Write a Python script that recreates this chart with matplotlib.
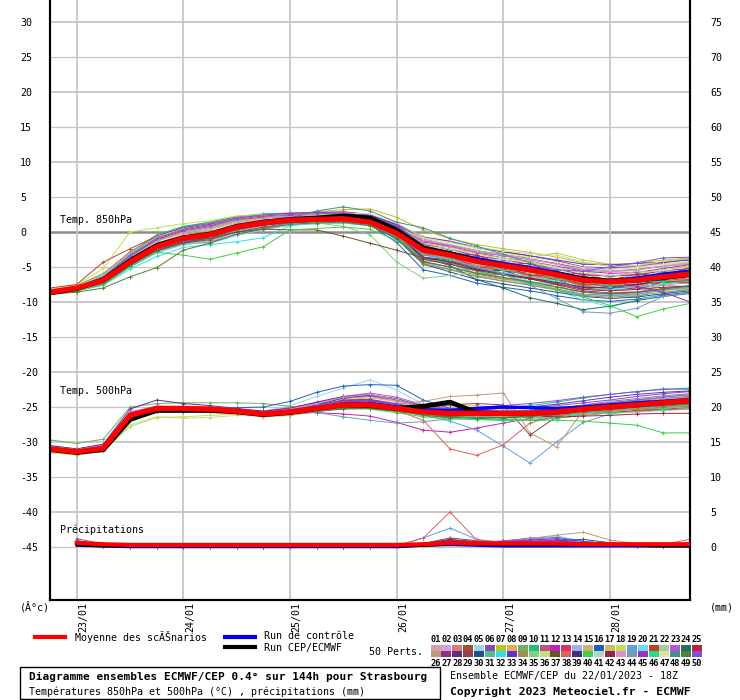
import matplotlib
matplotlib.use('Agg')
import matplotlib.pyplot as plt
from matplotlib.lines import Line2D
from matplotlib.patches import Rectangle

plt.rcParams['font.family'] = ['DejaVu Sans Mono']

# ---------------- data ----------------
hours_temp = [0, 6, 12, 18, 24, 30, 36, 42, 48, 54, 60, 66, 72, 78, 84, 90, 96, 102, 108, 114, 120, 126, 132, 138, 144]
hours_precip = [6, 12, 18, 24, 30, 36, 42, 48, 54, 60, 66, 72, 78, 84, 90, 96, 102, 108, 114, 120, 126, 132, 138, 144]
date_labels = ['23/01', '24/01', '25/01', '26/01', '27/01', '28/01']
date_hours = [6, 30, 54, 78, 102, 126]
left_ticks = [-45, -40, -35, -30, -25, -20, -15, -10, -5, 0, 5, 10, 15, 20, 25, 30]
right_ticks = [0, 5, 10, 15, 20, 25, 30, 35, 40, 45, 50, 55, 60, 65, 70, 75]

pert_colors = ['#d4a0a8', '#d0a0e0', '#e07880', '#a05030', '#a0d0f0', '#8050b0', '#c0c020', '#e0b050', '#70b060', '#20c070',
               '#c05080', '#c020c0', '#e03060', '#a0b0e0', '#d0b080', '#2060c0', '#c8c060', '#c0e050', '#60a0e0', '#60e0f0',
               '#c04020', '#a0d0a0', '#c050e0', '#207060', '#c02030', '#c09878', '#903080', '#603080', '#904050', '#205090',
               '#50c090', '#30e0e0', '#6030d0', '#a09050', '#80d080', '#c0e080', '#705020', '#e06060', '#403080', '#40d040',
               '#b0d8c8', '#a02040', '#e090d0', '#70a0b0', '#a030c0', '#20e090', '#e0e0a0', '#409090', '#508030', '#8050e0']

t850_mean = [-8.6, -8.0, -6.9, -4.3, -2.1, -0.9, -0.4, 0.7, 1.3, 1.7, 1.8, 1.9, 1.4, -0.2, -2.6, -3.3, -4.2, -4.8, -5.4, -6.1, -6.9, -7.1, -6.9, -6.4, -6.0]
t850_control = [-8.6, -8.1, -6.9, -4.1, -2.1, -1.0, -0.4, 0.7, 1.3, 1.7, 1.8, 1.8, 1.4, -0.3, -2.3, -3.0, -3.8, -4.5, -5.1, -5.8, -6.6, -6.9, -6.6, -6.0, -5.6]
t850_cep = [-8.7, -8.1, -6.8, -4.1, -1.9, -0.8, -0.3, 0.8, 1.4, 1.8, 2.0, 2.3, 2.0, 0.3, -2.3, -3.1, -4.1, -4.8, -5.4, -6.0, -6.7, -7.0, -6.9, -6.5, -6.1]
t850_members = [
    [-8.3, -7.9, -6.4, -3.3, -1.0, 0.1, 0.7, 1.6, 2.0, 2.2, 2.3, 2.4, 2.0, 0.6, -1.2, -1.8, -2.6, -3.4, -4.0, -4.5, -5.3, -5.7, -5.5, -4.8, -4.4],
    [-8.8, -8.2, -7.3, -4.6, -2.5, -1.3, -0.8, 0.3, 1.0, 1.6, 1.8, 1.8, 1.3, -0.4, -4.1, -4.5, -5.9, -6.0, -7.2, -7.3, -8.6, -8.2, -8.6, -7.6, -7.8],
    [-8.2, -7.7, -5.9, -2.8, -0.6, 0.5, 0.9, 1.8, 2.2, 2.3, 2.3, 2.4, 1.9, 0.3, -2.1, -2.9, -4.0, -4.9, -5.8, -6.7, -7.7, -8.0, -7.9, -7.4, -7.0],
    [-8.6, -8.1, -7.0, -4.7, -2.9, -1.8, -1.4, -0.3, 0.4, 1.0, 1.2, 1.3, 0.9, -0.8, -4.2, -5.0, -6.0, -6.7, -7.2, -7.9, -8.6, -8.9, -8.7, -8.2, -7.8],
    [-8.9, -8.3, -7.4, -5.0, -3.0, -1.8, -1.3, -0.2, 0.5, 1.2, 1.5, 1.6, 1.2, -0.6, -3.6, -4.6, -4.8, -5.9, -5.6, -6.8, -6.6, -7.3, -6.2, -6.3, -5.3],
    [-8.4, -7.8, -6.2, -3.0, -0.6, 0.7, 1.4, 2.2, 2.5, 2.6, 2.7, 2.7, 2.4, 1.1, -0.7, -1.3, -2.2, -2.9, -3.4, -4.1, -5.0, -5.1, -4.9, -4.4, -3.9],
    [-8.3, -7.7, -6.3, -3.2, -1.2, 0.0, 0.6, 1.6, 2.2, 2.6, 2.9, 3.2, 3.3, 2.1, 0.3, -1.0, -1.8, -2.4, -2.9, -3.6, -4.4, -4.6, -4.5, -4.0, -3.7],
    [-8.7, -8.2, -7.2, -4.8, -2.8, -1.6, -1.0, 0.2, 0.9, 1.4, 1.6, 1.7, 1.2, -0.3, -4.7, -5.3, -6.2, -6.8, -7.4, -8.1, -8.9, -9.1, -8.8, -8.4, -8.0],
    [-8.5, -8.0, -6.9, -4.2, -2.3, -1.2, -0.7, 0.5, 1.1, 1.6, 1.7, 1.8, 1.4, -0.2, -3.9, -4.4, -6.0, -6.1, -7.4, -7.5, -9.1, -8.7, -9.3, -8.0, -8.2],
    [-8.2, -7.6, -6.1, -3.0, -0.4, 0.8, 1.4, 2.2, 2.6, 2.7, 2.8, 2.8, 2.4, 0.9, -1.0, -1.9, -2.7, -3.2, -3.8, -4.6, -5.5, -5.6, -5.3, -4.9, -4.6],
    [-8.6, -8.0, -6.6, -3.7, -1.7, -0.6, -0.1, 1.0, 1.6, 2.0, 2.1, 2.2, 1.8, 0.3, -2.3, -3.3, -3.6, -4.8, -4.8, -6.2, -6.3, -7.2, -6.3, -6.6, -5.5],
    [-8.4, -7.9, -6.5, -3.4, -0.8, 0.5, 1.1, 1.9, 2.3, 2.4, 2.5, 2.5, 2.1, 0.7, -1.4, -2.1, -3.0, -3.7, -4.2, -4.9, -5.6, -5.9, -5.8, -5.2, -4.7],
    [-8.7, -8.1, -7.1, -4.4, -2.4, -1.3, -0.8, 0.3, 1.0, 1.5, 1.7, 1.8, 1.3, -0.1, -3.1, -3.5, -5.0, -5.0, -6.2, -6.3, -7.7, -7.2, -7.7, -6.6, -6.8],
    [-8.9, -8.4, -7.5, -4.9, -2.9, -1.7, -1.2, 0.0, 0.6, 1.2, 1.3, 1.4, 0.9, -0.9, -4.4, -5.0, -5.9, -6.6, -7.3, -7.9, -8.6, -9.0, -8.8, -8.2, -7.8],
    [-8.4, -7.9, -6.7, -3.9, -1.6, -0.3, 0.3, 1.3, 1.8, 2.0, 2.1, 2.1, 1.7, 0.2, -1.6, -2.6, -2.9, -4.2, -4.1, -5.5, -5.6, -6.5, -5.6, -5.8, -4.7],
    [-8.8, -8.3, -7.3, -4.6, -2.4, -1.1, -0.5, 0.6, 1.1, 1.4, 1.5, 1.5, 1.0, -1.5, -5.4, -6.2, -7.3, -7.9, -8.4, -9.1, -9.7, -9.9, -9.6, -9.0, -8.6],
    [-8.3, -7.8, -6.5, -3.6, -1.2, -0.1, 0.5, 1.5, 2.0, 2.2, 2.2, 2.2, 1.8, 0.5, -1.6, -2.2, -2.9, -3.3, -3.6, -3.0, -4.0, -4.6, -4.9, -4.6, -4.3],
    [-8.2, -7.6, -5.2, 0.0, 0.6, 1.2, 1.6, 2.3, 2.5, 2.5, 2.4, 2.4, 2.0, 0.5, -1.7, -2.4, -3.2, -3.7, -4.3, -5.0, -5.9, -6.2, -6.0, -5.4, -4.9],
    [-8.6, -8.1, -7.1, -4.4, -2.5, -1.4, -0.9, 0.2, 0.9, 1.4, 1.6, 1.7, 1.3, -0.3, -4.5, -5.3, -6.3, -7.0, -7.6, -8.2, -8.9, -9.1, -8.9, -8.3, -7.9],
    [-8.7, -8.2, -7.2, -4.6, -2.8, -1.6, -1.6, -0.5, 0.3, 1.0, 1.2, 1.3, 0.9, -0.7, -3.3, -4.1, -5.2, -6.0, -7.0, -8.3, -9.7, -10.7, -9.8, -8.8, -8.2],
    [-8.0, -7.5, -4.3, -2.4, -0.6, 0.6, 1.0, 1.8, 2.1, 2.1, 2.2, 2.3, 1.8, 0.1, -3.1, -3.8, -4.7, -5.3, -5.9, -6.6, -7.3, -7.7, -7.5, -7.0, -6.5],
    [-8.5, -8.0, -6.9, -4.1, -2.1, -0.9, -0.4, 0.7, 1.3, 1.8, 1.9, 2.0, 1.6, 0.0, -2.8, -3.2, -4.7, -4.7, -5.9, -6.0, -7.4, -6.9, -7.4, -6.3, -6.6],
    [-8.4, -7.9, -6.4, -3.4, -0.9, 0.4, 1.0, 1.9, 2.4, 2.6, 2.6, 2.7, 2.3, 0.9, -1.3, -2.0, -2.9, -3.4, -3.9, -4.5, -5.2, -5.3, -4.9, -4.3, -3.8],
    [-8.8, -8.2, -7.2, -4.5, -2.3, -1.1, -0.6, 0.5, 1.0, 1.5, 1.6, 1.6, 1.2, -0.6, -3.6, -4.8, -6.8, -8.0, -9.4, -10.2, -11.1, -10.6, -9.8, -9.2, -8.8],
    [-8.5, -8.0, -6.8, -3.8, -1.7, -0.6, 0.0, 1.1, 1.7, 2.0, 2.1, 2.1, 1.7, 0.3, -2.0, -3.0, -3.3, -4.6, -4.5, -5.9, -6.0, -6.9, -6.0, -6.2, -5.1],
    [-8.6, -8.1, -7.0, -4.3, -2.2, -1.0, -0.5, 0.6, 1.2, 1.6, 1.7, 1.7, 1.2, -0.4, -3.8, -4.5, -5.4, -6.0, -6.6, -7.3, -8.1, -8.3, -8.1, -7.6, -7.2],
    [-8.3, -7.8, -6.5, -3.5, -1.1, 0.2, 0.8, 1.8, 2.3, 2.5, 2.5, 2.6, 2.2, 0.7, -1.8, -2.5, -3.4, -4.0, -4.6, -5.3, -6.1, -6.3, -6.1, -5.6, -5.2],
    [-8.7, -8.1, -6.9, -4.1, -2.0, -0.8, -0.3, 0.8, 1.4, 1.8, 1.9, 1.9, 1.5, -0.1, -3.6, -4.0, -5.5, -5.5, -6.7, -6.8, -8.2, -7.7, -8.2, -7.1, -7.3],
    [-8.5, -8.0, -7.1, -4.5, -2.7, -1.6, -1.1, 0.0, 0.7, 1.3, 1.5, 1.6, 1.1, -0.4, -3.6, -4.3, -5.1, -5.9, -6.7, -7.5, -8.4, -8.7, -8.6, -8.1, -7.7],
    [-8.9, -8.4, -7.5, -4.8, -2.6, -1.4, -0.8, 0.4, 1.0, 1.4, 1.5, 1.5, 1.0, -1.0, -4.6, -5.7, -6.8, -7.4, -8.0, -8.6, -9.2, -9.5, -9.3, -8.8, -8.4],
    [-8.4, -7.9, -6.6, -3.6, -1.3, -0.1, 0.5, 1.5, 2.0, 2.2, 2.2, 2.2, 1.8, 0.2, -2.4, -3.4, -3.7, -5.0, -4.9, -6.3, -6.4, -7.3, -6.4, -6.6, -5.5],
    [-8.8, -8.4, -7.6, -5.3, -3.5, -2.2, -1.8, -1.4, -0.8, 0.9, 1.3, 1.4, 1.0, -0.7, -3.6, -4.3, -5.2, -5.8, -6.4, -7.1, -7.9, -8.1, -7.9, -7.4, -7.0],
    [-8.3, -7.8, -6.3, -3.2, -0.7, 0.6, 1.2, 2.0, 2.4, 2.5, 2.6, 2.7, 2.4, 1.1, -0.8, -1.4, -2.2, -2.8, -3.4, -4.0, -4.6, -4.7, -4.5, -4.3, -4.0],
    [-8.6, -8.1, -7.0, -4.2, -2.2, -1.0, -0.6, 0.5, 1.1, 1.5, 1.6, 1.6, 1.2, -0.3, -4.6, -5.4, -6.4, -7.0, -7.6, -8.3, -9.1, -9.3, -9.1, -8.6, -8.2],
    [-8.4, -7.9, -6.7, -3.8, -1.8, -0.7, -0.2, 0.9, 1.5, 1.9, 1.3, 0.8, -0.4, -4.3, -6.6, -6.2, -5.8, -6.0, -6.4, -6.9, -7.4, -7.6, -7.3, -6.8, -6.4],
    [-8.2, -7.7, -6.2, -3.1, -0.7, 0.5, 1.1, 2.0, 2.4, 2.5, 2.5, 2.5, 2.1, 0.6, -0.9, -1.5, -2.2, -2.7, -3.1, -3.3, -4.3, -4.9, -4.8, -4.2, -3.8],
    [-8.7, -8.2, -7.2, -4.7, -2.6, -1.5, -0.9, 0.0, 0.4, 0.3, 0.3, -0.6, -1.6, -2.6, -3.7, -4.2, -5.0, -5.5, -6.1, -6.8, -7.4, -7.7, -7.5, -7.2, -6.9],
    [-8.5, -8.0, -6.8, -3.9, -1.9, -0.8, -0.3, 0.8, 1.4, 1.8, 2.0, 2.0, 1.6, 0.0, -3.3, -3.7, -5.2, -5.2, -6.4, -6.5, -7.9, -7.4, -7.9, -6.8, -7.0],
    [-8.6, -8.1, -6.9, -4.0, -2.0, -0.9, -0.4, 0.7, 1.3, 1.7, 1.8, 1.8, 1.4, -0.2, -3.6, -4.3, -5.3, -6.0, -6.6, -7.2, -7.9, -8.0, -7.5, -6.8, -6.2],
    [-8.8, -8.4, -7.5, -5.0, -2.9, -3.3, -3.9, -3.0, -2.1, 0.3, 0.5, 0.7, 0.4, -1.2, -3.8, -4.6, -5.6, -6.5, -7.3, -8.2, -9.3, -10.5, -12.1, -11.0, -10.2],
    [-8.5, -8.0, -6.8, -4.0, -2.0, -0.9, -0.3, 0.8, 1.3, 1.7, 1.8, 1.9, 1.5, -0.1, -2.0, -2.4, -3.9, -3.9, -5.1, -5.2, -6.6, -6.1, -6.6, -5.5, -5.7],
    [-8.7, -8.2, -7.1, -4.4, -2.4, -1.2, -0.7, 0.4, 1.0, 1.5, 1.6, 1.7, 1.3, -0.2, -3.9, -4.6, -5.5, -6.1, -6.7, -7.4, -8.2, -8.4, -8.2, -7.9, -7.7],
    [-8.3, -7.8, -6.6, -3.7, -1.3, -0.1, 0.5, 1.5, 2.0, 2.2, 2.3, 2.4, 2.0, 0.4, -1.1, -1.8, -2.7, -3.3, -3.9, -4.6, -5.4, -5.6, -5.4, -4.9, -4.5],
    [-8.6, -8.1, -7.0, -4.3, -2.3, -1.2, -0.7, 0.5, 1.1, 1.5, 1.6, 1.6, 1.2, -0.5, -3.2, -4.0, -5.0, -6.0, -7.6, -9.5, -11.4, -11.6, -10.9, -9.2, -8.7],
    [-8.4, -7.9, -6.5, -3.4, -0.9, 0.4, 1.1, 2.0, 2.4, 2.7, 2.8, 2.9, 2.5, 1.0, -2.0, -2.8, -3.9, -4.5, -5.1, -5.8, -6.4, -6.9, -7.8, -8.6, -10.0],
    [-8.5, -8.0, -6.7, -3.8, -1.7, -0.6, 0.0, 1.1, 1.6, 2.0, 2.1, 2.1, 1.7, 0.1, -2.9, -3.9, -4.2, -5.5, -5.4, -6.8, -6.9, -7.8, -6.9, -7.1, -6.0],
    [-8.2, -7.7, -6.4, -3.3, -0.9, 0.3, 0.9, 1.8, 2.3, 2.5, 2.6, 2.7, 2.6, 1.3, -0.8, -1.5, -2.4, -3.0, -3.6, -4.3, -5.1, -5.3, -5.1, -4.6, -4.2],
    [-8.7, -8.2, -7.2, -4.5, -2.5, -1.3, -0.7, 0.4, 1.1, 2.0, 3.0, 3.6, 3.0, 1.4, 0.6, -0.9, -2.0, -3.2, -4.4, -5.6, -6.6, -7.2, -7.0, -6.6, -6.3],
    [-8.9, -8.6, -8.0, -6.4, -5.1, -2.6, -1.6, -0.3, 0.5, 1.1, 1.3, 1.4, 0.9, -0.8, -4.3, -5.0, -5.9, -6.5, -7.1, -7.8, -8.6, -8.8, -8.6, -8.1, -7.7],
    [-8.3, -7.8, -6.4, -3.3, -0.9, 0.3, 0.9, 1.8, 2.3, 2.5, 2.6, 2.7, 2.3, 0.8, -2.0, -2.8, -3.7, -4.3, -4.9, -5.4, -5.6, -5.0, -4.4, -3.7, -3.6],
]

t500_mean = [-31.0, -31.4, -30.9, -26.2, -25.2, -25.2, -25.3, -25.6, -26.0, -25.7, -25.2, -24.7, -24.7, -25.2, -25.7, -25.9, -25.9, -25.9, -25.9, -25.7, -25.3, -25.0, -24.7, -24.4, -24.1]
t500_control = [-31.0, -31.4, -30.8, -26.1, -25.2, -25.2, -25.3, -25.6, -26.0, -25.7, -25.2, -24.6, -24.5, -25.0, -25.4, -25.5, -25.2, -25.0, -25.1, -25.2, -25.0, -24.7, -24.4, -24.2, -24.0]
t500_cep = [-31.1, -31.5, -31.1, -26.8, -25.5, -25.5, -25.5, -25.7, -26.1, -25.8, -25.2, -24.7, -24.8, -25.2, -24.9, -24.3, -25.8, -25.9, -25.9, -25.7, -25.3, -25.0, -24.7, -24.4, -24.1]
t500_members = [
    [-30.8, -31.2, -30.6, -26.0, -25.0, -25.1, -25.2, -25.5, -25.8, -25.4, -24.8, -24.2, -24.1, -24.8, -25.5, -26.2, -25.7, -26.5, -25.6, -26.2, -25.2, -25.6, -24.6, -25.0, -24.1],
    [-31.3, -31.6, -31.0, -26.5, -25.4, -25.3, -25.4, -25.8, -26.2, -25.9, -25.3, -24.5, -24.0, -24.4, -25.2, -25.6, -25.8, -25.7, -25.6, -25.2, -24.8, -24.3, -24.0, -23.6, -23.3],
    [-30.6, -31.0, -30.4, -25.8, -25.1, -25.0, -25.0, -25.3, -25.7, -25.3, -24.6, -23.8, -23.5, -24.2, -25.1, -25.6, -25.8, -26.2, -26.4, -26.1, -25.7, -25.3, -25.0, -24.6, -24.2],
    [-31.1, -31.5, -31.0, -26.4, -25.3, -25.4, -25.5, -25.8, -26.3, -26.1, -25.6, -25.0, -24.8, -25.3, -25.8, -26.1, -26.2, -26.3, -26.4, -26.2, -25.9, -25.6, -25.3, -25.0, -24.8],
    [-30.9, -31.3, -30.7, -26.1, -25.0, -25.0, -25.2, -25.5, -25.6, -24.8, -23.5, -22.3, -21.1, -22.6, -24.6, -25.4, -25.8, -25.9, -25.7, -25.4, -25.0, -24.8, -24.5, -24.2, -23.8],
    [-30.7, -31.2, -30.5, -25.9, -24.9, -25.0, -25.1, -25.3, -25.6, -25.1, -24.4, -23.6, -23.4, -24.0, -24.9, -25.2, -25.3, -25.2, -25.1, -24.8, -24.4, -24.0, -23.5, -23.1, -22.8],
    [-31.2, -31.6, -31.1, -26.6, -25.5, -25.4, -25.5, -25.8, -26.1, -25.9, -25.5, -25.1, -25.0, -25.4, -25.9, -25.7, -26.4, -25.6, -26.2, -25.0, -25.3, -24.3, -24.8, -23.9, -24.3],
    [-30.9, -31.3, -30.8, -26.3, -25.4, -25.5, -25.6, -25.9, -26.4, -26.2, -25.7, -25.2, -25.0, -25.1, -25.3, -25.0, -24.8, -25.2, -25.8, -26.0, -25.8, -25.4, -25.1, -24.8, -24.5],
    [-29.7, -30.2, -29.6, -25.0, -24.5, -24.4, -24.4, -24.4, -24.5, -24.9, -25.0, -25.0, -25.2, -25.6, -25.9, -26.2, -26.4, -26.6, -26.5, -26.1, -25.6, -25.1, -24.6, -24.2, -23.9],
    [-30.8, -31.2, -30.7, -26.0, -25.1, -25.1, -25.2, -25.4, -25.8, -25.5, -25.0, -24.6, -24.6, -25.0, -25.3, -25.4, -25.3, -25.1, -24.8, -24.3, -23.7, -23.2, -22.8, -22.4, -22.5],
    [-31.0, -31.4, -30.9, -26.2, -25.2, -25.3, -25.4, -25.7, -26.0, -25.6, -25.0, -24.3, -24.1, -24.7, -25.6, -26.1, -26.3, -26.4, -26.2, -26.0, -25.7, -25.4, -25.1, -24.9, -24.7],
    [-31.1, -31.5, -31.0, -26.5, -25.4, -25.3, -25.4, -25.7, -26.0, -25.9, -25.8, -26.0, -26.3, -27.2, -28.3, -28.6, -28.0, -27.3, -26.6, -26.3, -26.1, -25.8, -25.6, -25.4, -25.3],
    [-30.8, -31.3, -30.6, -26.1, -25.2, -25.2, -25.3, -25.6, -25.9, -25.5, -25.0, -24.5, -24.4, -24.9, -25.5, -25.7, -25.6, -25.7, -25.8, -25.5, -25.1, -24.6, -24.3, -24.0, -23.8],
    [-31.2, -31.6, -31.1, -26.6, -25.6, -25.6, -25.6, -25.8, -26.2, -26.0, -25.6, -25.2, -25.1, -25.5, -26.1, -26.7, -25.9, -26.5, -25.5, -26.0, -24.8, -25.1, -24.0, -24.4, -23.5],
    [-31.0, -31.4, -30.8, -26.2, -25.2, -25.2, -25.3, -25.6, -26.0, -25.7, -25.1, -24.6, -24.5, -25.0, -25.6, -25.8, -25.9, -25.8, -25.7, -25.4, -25.0, -24.8, -24.6, -24.4, -24.2],
    [-30.9, -31.3, -30.8, -25.9, -25.1, -25.2, -25.3, -25.1, -25.0, -24.2, -22.9, -22.0, -21.8, -21.9, -24.0, -25.2, -25.6, -25.8, -25.9, -25.6, -25.2, -24.9, -24.6, -24.3, -24.1],
    [-30.7, -31.1, -30.5, -25.9, -25.0, -25.0, -25.1, -25.4, -25.7, -25.3, -24.7, -24.0, -23.7, -24.2, -25.2, -25.6, -25.7, -25.6, -25.5, -25.2, -24.8, -24.4, -24.1, -23.8, -23.5],
    [-31.4, -31.8, -31.3, -27.8, -26.5, -26.4, -26.2, -26.0, -26.2, -25.9, -25.4, -24.9, -24.8, -25.3, -25.8, -26.0, -26.0, -25.9, -25.7, -25.4, -25.0, -24.7, -24.4, -24.1, -23.8],
    [-31.0, -31.4, -30.9, -26.3, -25.3, -25.3, -25.4, -25.7, -26.0, -25.7, -25.3, -24.9, -24.9, -25.4, -26.2, -27.0, -28.3, -30.6, -33.0, -30.0, -27.2, -26.0, -25.5, -25.1, -24.8],
    [-30.8, -31.3, -30.7, -26.0, -25.1, -25.2, -25.3, -25.6, -26.0, -25.8, -25.4, -25.0, -25.0, -25.5, -26.1, -26.4, -26.6, -26.5, -26.3, -26.0, -25.6, -25.2, -24.9, -24.6, -24.4],
    [-31.2, -31.6, -31.0, -26.4, -25.3, -25.3, -25.4, -25.6, -25.9, -25.6, -25.0, -24.5, -24.6, -25.3, -26.0, -26.3, -26.6, -26.8, -26.9, -26.6, -26.2, -25.8, -25.5, -25.3, -25.1],
    [-30.9, -31.3, -30.8, -26.2, -25.2, -25.2, -25.3, -25.5, -25.9, -25.6, -25.2, -24.8, -24.7, -25.1, -25.6, -25.4, -26.2, -25.3, -26.0, -24.9, -25.3, -24.2, -24.7, -23.8, -24.2],
    [-30.6, -31.0, -30.4, -25.7, -24.9, -25.0, -25.1, -25.4, -25.7, -25.3, -24.5, -23.5, -23.0, -23.6, -24.7, -25.3, -25.5, -25.6, -25.6, -25.2, -24.7, -24.2, -23.8, -23.4, -23.1],
    [-31.1, -31.5, -31.0, -26.5, -25.4, -25.4, -25.5, -25.8, -26.2, -26.0, -25.6, -25.3, -25.2, -25.6, -26.0, -26.1, -26.0, -25.8, -25.6, -25.2, -24.8, -24.5, -24.2, -23.9, -23.6],
    [-31.0, -31.4, -30.9, -26.3, -25.3, -25.3, -25.4, -25.7, -26.1, -25.8, -25.2, -24.6, -24.5, -25.0, -25.6, -25.9, -26.0, -26.0, -26.0, -25.8, -25.5, -25.2, -25.0, -24.8, -24.6],
    [-30.8, -31.2, -30.7, -26.1, -25.2, -25.2, -25.3, -25.6, -25.9, -25.5, -24.9, -24.4, -24.4, -24.6, -24.2, -23.5, -23.3, -23.0, -28.7, -30.7, -25.5, -25.2, -24.9, -24.6, -24.4],
    [-31.1, -31.5, -30.9, -26.3, -25.3, -25.3, -25.4, -25.7, -26.0, -25.5, -24.8, -24.0, -23.9, -24.6, -25.5, -25.8, -25.8, -25.7, -25.5, -25.2, -24.8, -24.4, -24.1, -23.8, -23.5],
    [-30.5, -31.0, -30.3, -25.3, -24.0, -24.5, -24.8, -25.2, -25.6, -25.2, -24.3, -23.5, -23.2, -23.9, -25.0, -25.5, -25.7, -25.7, -25.6, -25.4, -25.1, -24.8, -24.5, -24.2, -24.0],
    [-30.9, -31.3, -30.8, -26.1, -25.2, -25.2, -25.3, -25.6, -25.9, -25.5, -24.8, -24.1, -24.0, -24.6, -25.2, -24.7, -24.5, -24.7, -29.0, -26.4, -25.8, -25.4, -25.1, -24.8, -24.6],
    [-31.0, -31.4, -30.9, -26.2, -25.3, -25.3, -25.4, -25.6, -26.0, -25.6, -24.7, -23.7, -23.3, -23.8, -24.9, -25.5, -25.7, -25.7, -25.6, -25.3, -24.9, -24.6, -24.3, -24.0, -23.7],
    [-30.8, -31.2, -30.6, -26.0, -25.1, -25.1, -25.2, -25.5, -25.8, -25.5, -25.1, -24.8, -24.8, -25.3, -25.9, -26.6, -26.0, -26.7, -25.8, -26.3, -25.1, -25.4, -24.3, -24.7, -23.8],
    [-31.2, -31.6, -31.1, -26.6, -25.5, -25.5, -25.5, -25.7, -26.0, -25.7, -25.3, -24.9, -24.9, -25.4, -26.0, -26.4, -26.7, -26.9, -26.8, -26.4, -25.9, -25.5, -25.2, -24.9, -24.7],
    [-30.9, -31.3, -30.8, -26.2, -25.2, -25.2, -25.3, -25.6, -25.9, -25.5, -24.9, -24.3, -24.1, -24.6, -25.3, -25.5, -25.4, -25.2, -25.0, -24.6, -24.1, -23.6, -23.2, -22.9, -22.7],
    [-31.0, -31.4, -30.9, -26.4, -25.4, -25.4, -25.5, -25.8, -26.1, -25.8, -25.4, -25.0, -24.9, -25.3, -25.8, -26.0, -26.1, -26.2, -26.3, -26.1, -25.8, -25.5, -25.3, -25.1, -24.9],
    [-30.7, -31.1, -30.6, -26.0, -25.1, -25.1, -25.2, -25.4, -25.8, -25.5, -25.0, -24.6, -24.6, -25.1, -25.7, -26.0, -26.2, -26.4, -26.5, -26.4, -26.1, -25.9, -25.7, -25.5, -25.3],
    [-31.5, -31.9, -31.2, -27.6, -26.4, -26.6, -26.5, -26.2, -26.3, -26.0, -25.5, -24.9, -24.8, -25.2, -25.7, -25.8, -25.7, -25.6, -25.5, -25.3, -24.9, -24.6, -24.4, -24.2, -24.0],
    [-31.1, -31.5, -31.0, -26.4, -25.3, -25.3, -25.4, -25.7, -26.1, -25.9, -25.5, -25.1, -25.0, -25.5, -26.1, -26.4, -26.5, -26.5, -26.4, -26.1, -25.7, -25.3, -25.0, -24.7, -24.5],
    [-30.9, -31.3, -30.8, -26.2, -25.2, -25.2, -25.3, -25.6, -25.9, -25.6, -25.1, -24.7, -24.8, -25.5, -26.9, -31.0, -31.9, -30.4, -27.3, -26.2, -25.8, -25.4, -25.1, -24.8, -24.6],
    [-31.2, -31.7, -31.2, -26.7, -25.6, -25.5, -25.6, -25.8, -26.2, -25.9, -25.4, -24.9, -24.8, -25.2, -25.8, -26.0, -26.0, -25.9, -25.8, -25.5, -25.1, -24.8, -24.5, -24.3, -24.1],
    [-30.8, -31.2, -30.7, -26.2, -25.3, -25.3, -25.4, -25.7, -26.1, -25.9, -25.5, -25.2, -25.3, -25.8, -26.4, -26.7, -26.8, -26.9, -26.9, -26.9, -27.0, -27.3, -27.6, -28.7, -28.7],
    [-31.0, -31.4, -30.9, -26.2, -25.2, -25.2, -25.3, -25.6, -26.0, -25.7, -25.2, -24.8, -24.8, -25.3, -25.8, -25.6, -26.3, -25.4, -26.0, -24.9, -25.3, -24.2, -24.7, -23.7, -24.1],
    [-31.1, -31.5, -31.0, -26.4, -25.3, -25.3, -25.4, -25.7, -26.0, -25.7, -25.3, -24.9, -24.9, -25.4, -26.0, -26.2, -26.2, -26.2, -26.3, -26.4, -26.3, -26.2, -26.0, -25.9, -25.9],
    [-30.7, -31.1, -30.5, -25.9, -25.0, -25.1, -25.2, -25.5, -25.8, -25.3, -24.5, -23.6, -23.2, -23.9, -25.0, -25.4, -25.6, -25.6, -25.5, -25.2, -24.8, -24.4, -24.1, -23.8, -23.6],
    [-31.0, -31.4, -30.9, -26.3, -25.3, -25.3, -25.4, -25.7, -26.0, -25.8, -25.8, -26.4, -26.9, -27.3, -27.1, -26.7, -26.4, -26.2, -26.0, -25.7, -25.3, -25.0, -24.7, -24.5, -24.3],
    [-31.0, -31.4, -30.8, -26.2, -25.2, -25.2, -25.3, -25.6, -26.0, -25.6, -25.0, -24.4, -24.3, -24.8, -25.5, -25.8, -25.8, -25.7, -25.6, -25.4, -25.1, -24.9, -24.7, -24.6, -24.5],
    [-30.8, -31.2, -30.7, -26.1, -25.2, -25.2, -25.3, -25.6, -26.0, -25.7, -25.3, -25.0, -25.0, -25.4, -26.0, -26.7, -26.2, -27.0, -26.2, -26.7, -25.6, -25.9, -24.9, -25.3, -24.4],
    [-31.1, -31.5, -31.0, -26.5, -25.4, -25.4, -25.5, -25.8, -26.1, -25.8, -25.2, -24.6, -24.5, -25.0, -25.6, -25.9, -26.0, -26.0, -25.9, -25.6, -25.2, -24.8, -24.5, -24.2, -24.0],
    [-30.9, -31.3, -30.7, -26.1, -25.2, -25.2, -25.3, -25.6, -25.9, -25.6, -25.1, -24.7, -24.6, -25.0, -25.5, -25.7, -25.7, -25.6, -25.5, -25.2, -24.8, -24.4, -24.0, -23.6, -23.2],
    [-31.2, -31.6, -31.1, -26.5, -25.5, -25.5, -25.6, -25.8, -26.2, -26.0, -25.6, -25.2, -25.2, -25.6, -26.2, -26.5, -26.6, -26.5, -26.3, -26.0, -25.6, -25.3, -25.0, -24.8, -24.6],
    [-30.8, -31.2, -30.7, -26.1, -25.1, -25.1, -25.2, -25.5, -25.8, -25.4, -24.8, -24.2, -24.1, -24.6, -25.2, -25.3, -25.1, -24.8, -24.5, -24.1, -23.6, -23.2, -22.8, -22.5, -22.3],
]

precip_mean = [0.6, 0.4, 0.3, 0.3, 0.3, 0.3, 0.3, 0.3, 0.3, 0.3, 0.3, 0.3, 0.3, 0.4, 0.6, 0.5, 0.5, 0.5, 0.5, 0.4, 0.4, 0.4, 0.4, 0.4]
precip_control = [0.2, 0.1, 0.0, 0.0, 0.0, 0.0, 0.0, 0.0, 0.0, 0.0, 0.0, 0.0, 0.0, 0.2, 0.3, 0.2, 0.1, 0.1, 0.1, 0.1, 0.1, 0.1, 0.1, 0.1]
precip_cep = [0.3, 0.1, 0.1, 0.1, 0.1, 0.1, 0.1, 0.1, 0.1, 0.1, 0.1, 0.1, 0.1, 0.2, 0.4, 0.4, 0.3, 0.3, 0.3, 0.3, 0.3, 0.2, 0.1, 0.1]
precip_members = [
    [.5, .2, 0, 0, 0, 0, 0, 0, 0, 0, 0, 0, .1, .3, .8, .6, .5, .4, .5, .4, .3, .2, .1, .1],
    [.4, .1, 0, 0, 0, 0, 0, 0, 0, 0, 0, 0, 0, .2, .5, .5, .4, .6, .7, .5, .3, .2, .2, .2],
    [.6, .2, .1, 0, 0, 0, 0, 0, 0, 0, 0, 0, .1, .4, .7, .5, .4, .5, .6, .4, .2, .1, .1, .2],
    [.3, .1, 0, 0, 0, 0, 0, 0, 0, 0, 0, 0, 0, .3, .9, .6, .5, .4, .4, .3, .3, .2, .1, .1],
    [.7, .3, .1, 0, 0, 0, 0, 0, 0, 0, 0, 0, .1, .5, 1.0, .7, .6, .5, .4, .3, .2, .2, .1, .1],
    [1.2, .4, .1, 0, 0, 0, 0, 0, 0, 0, 0, 0, .1, .4, .6, .5, .8, 1.3, 1.4, .8, .4, .3, .2, .1],
    [.4, .1, 0, 0, 0, 0, 0, 0, 0, 0, 0, 0, 0, .2, .4, .4, .3, .3, .3, .3, .2, .1, .1, .1],
    [.5, .2, 0, 0, 0, 0, 0, 0, 0, 0, 0, 0, 0, .3, .6, .5, .5, .6, .8, .5, .3, .2, .1, .1],
    [.8, .3, .1, 0, 0, 0, 0, 0, 0, 0, 0, 0, .1, .3, .5, .4, .4, .4, .5, .4, .3, .2, .2, .2],
    [.5, .2, 0, 0, 0, 0, 0, 0, 0, 0, 0, 0, .1, .4, .7, .6, .5, .5, .4, .3, .3, .2, .2, .3],
    [.3, .1, 0, 0, 0, 0, 0, 0, 0, 0, 0, 0, 0, .3, .6, .5, .6, .5, .5, .4, .3, .2, .1, .1],
    [.4, .2, 0, 0, 0, 0, 0, 0, 0, 0, 0, 0, .1, .3, .5, .4, .5, .6, .7, .6, .4, .3, .2, .2],
    [.5, .2, 0, 0, 0, 0, 0, 0, 0, 0, 0, 0, .1, .4, .7, .6, .5, .4, .4, .4, .3, .2, .2, .2],
    [.6, .2, .1, 0, 0, 0, 0, 0, 0, 0, 0, 0, .1, .3, .5, .5, .6, .7, .6, .5, .4, .3, .2, .1],
    [.4, .1, 0, 0, 0, 0, 0, 0, 0, 0, 0, 0, 0, .3, .6, .5, .4, .3, .3, .3, .2, .2, .1, .1],
    [.6, .2, 0, 0, 0, 0, 0, 0, 0, 0, 0, 0, .1, .4, .8, .7, .6, .6, .7, .5, .3, .2, .2, .1],
    [.3, .1, 0, 0, 0, 0, 0, 0, 0, 0, 0, 0, 0, .2, .5, .4, .4, .3, .4, .3, .2, .2, .2, .2],
    [.5, .2, 0, 0, 0, 0, 0, 0, 0, 0, 0, 0, .1, .3, .6, .5, .5, .5, .6, .4, .3, .2, .2, .2],
    [.7, .3, .1, 0, 0, 0, 0, 0, 0, 0, 0, 0, .1, 1.3, 2.7, 1.1, .6, .5, .5, .4, .3, .2, .2, .2],
    [.5, .2, 0, 0, 0, 0, 0, 0, 0, 0, 0, 0, .1, .4, .7, .6, .6, .9, 1.6, .8, .5, .3, .2, .2],
    [.4, .1, 0, 0, 0, 0, 0, 0, 0, 0, 0, 0, 0, .3, .6, .5, .4, .4, .4, .3, .3, .2, .1, .1],
    [.5, .2, 0, 0, 0, 0, 0, 0, 0, 0, 0, 0, .1, .3, .6, .5, .5, .4, .5, .4, .3, .2, .2, .2],
    [.9, .3, .1, 0, 0, 0, 0, 0, 0, 0, 0, 0, .1, .4, .7, .6, .9, 1.2, 1.1, .6, .4, .3, .2, .2],
    [.4, .1, 0, 0, 0, 0, 0, 0, 0, 0, 0, 0, 0, .3, .6, .5, .5, .5, .5, .4, .3, .2, .2, .1],
    [.5, .2, 0, 0, 0, 0, 0, 0, 0, 0, 0, 0, .1, .4, .8, .6, .5, .4, .4, .3, .3, .3, .3, .6],
    [.6, .2, .1, 0, 0, 0, 0, 0, 0, 0, 0, 0, .1, .4, .7, .6, .7, 1.2, 1.7, 2.1, 1.0, .5, .3, .2],
    [.5, .2, 0, 0, 0, 0, 0, 0, 0, 0, 0, 0, .1, .4, 1.0, .8, .6, .5, .5, .4, .3, .2, .2, .1],
    [.7, .3, .1, 0, 0, 0, 0, 0, 0, 0, 0, 0, .1, .5, 1.1, .7, .6, .6, .6, .5, .3, .2, .2, .2],
    [.4, .1, 0, 0, 0, 0, 0, 0, 0, 0, 0, 0, .1, .5, 1.3, .9, .6, .5, .5, .4, .3, .2, .2, .2],
    [.5, .2, 0, 0, 0, 0, 0, 0, 0, 0, 0, 0, .1, .4, .7, .6, .7, .8, .9, 1.1, .6, .3, .2, .2],
    [.4, .1, 0, 0, 0, 0, 0, 0, 0, 0, 0, 0, 0, .3, .6, .5, .4, .4, .4, .3, .3, .2, .2, .1],
    [.6, .2, 0, 0, 0, 0, 0, 0, 0, 0, 0, 0, .1, .4, .7, .6, .5, .5, .6, .5, .3, .2, .2, .2],
    [.8, .3, .1, 0, 0, 0, 0, 0, 0, 0, 0, 0, .1, .5, .9, .7, .7, 1.0, 1.2, .8, .5, .3, .2, .2],
    [.4, .1, 0, 0, 0, 0, 0, 0, 0, 0, 0, 0, 0, .3, .5, .4, .4, .4, .4, .3, .2, .2, .1, .1],
    [.5, .2, 0, 0, 0, 0, 0, 0, 0, 0, 0, 0, .1, .4, .6, .5, .5, .5, .5, .4, .3, .2, .2, .2],
    [.3, .1, 0, 0, 0, 0, 0, 0, 0, 0, 0, 0, 0, .2, .5, .4, .4, .3, .3, .3, .2, .2, .1, .1],
    [.5, .2, 0, 0, 0, 0, 0, 0, 0, 0, 0, 0, .1, .4, .7, .6, .5, .5, .5, .4, .3, .2, .2, .2],
    [.6, .2, .1, 0, 0, 0, 0, 0, 0, 0, 0, 0, .2, 1.3, 5.0, 1.0, .7, .6, .5, .4, .3, .3, .4, 1.1],
    [.4, .1, 0, 0, 0, 0, 0, 0, 0, 0, 0, 0, .1, .3, .6, .5, .6, .7, .6, .5, .3, .2, .2, .2],
    [.5, .2, 0, 0, 0, 0, 0, 0, 0, 0, 0, 0, .1, .4, .6, .5, .5, .4, .4, .4, .3, .2, .2, .2],
    [.4, .1, 0, 0, 0, 0, 0, 0, 0, 0, 0, 0, 0, .3, .5, .4, .4, .4, .4, .3, .2, .2, .1, .1],
    [.5, .2, 0, 0, 0, 0, 0, 0, 0, 0, 0, 0, .1, .4, .8, .6, .5, .5, .5, .4, .3, .2, .2, .3],
    [.6, .2, .1, 0, 0, 0, 0, 0, 0, 0, 0, 0, .1, .4, .7, .6, .6, .6, .6, .5, .4, .3, .2, .2],
    [.4, .1, 0, 0, 0, 0, 0, 0, 0, 0, 0, 0, .1, .3, .6, .5, .5, .4, .4, .3, .3, .2, .2, .1],
    [.9, .3, .1, 0, 0, 0, 0, 0, 0, 0, 0, 0, .1, .4, .8, .7, .8, 1.0, .9, .6, .4, .3, .2, .2],
    [.5, .2, 0, 0, 0, 0, 0, 0, 0, 0, 0, 0, .1, .4, .7, .5, .4, .4, .5, .4, .3, .2, .2, .2],
    [.3, .1, 0, 0, 0, 0, 0, 0, 0, 0, 0, 0, 0, .2, .4, .4, .3, .3, .3, .3, .2, .2, .2, .4],
    [.5, .2, 0, 0, 0, 0, 0, 0, 0, 0, 0, 0, .1, .4, .7, .6, .5, .5, .5, .4, .3, .2, .2, .2],
    [.7, .3, .1, 0, 0, 0, 0, 0, 0, 0, 0, 0, .1, .4, .6, .5, .5, .5, .5, .4, .3, .2, .2, .2],
    [.6, .2, 0, 0, 0, 0, 0, 0, 0, 0, 0, 0, .1, .5, .8, .7, .7, .8, .8, .5, .3, .2, .2, .2],
]

# ---------------- layout ----------------
W, H = 740, 700
def fx(x):
    return x / W
def fy(y):
    return 1 - y / H

fig = plt.figure(figsize=(W / 100, H / 100), dpi=100)
fig.patch.set_facecolor('white')
ax = fig.add_axes([fx(50), 100 / H, 640 / W, 600 / H])
ylo, yhi = -52.57, 33.14
ax.set_xlim(0, 144)
ax.set_ylim(ylo, yhi)
ax2 = ax.twinx()
ax2.set_ylim(ylo + 45, yhi + 45)

FS = 7.2

# grid
for v in left_ticks:
    if v == 0:
        ax.axhline(v, color='#8c8c8c', lw=1.8, zorder=1)
    elif v % 10 == 0:
        ax.axhline(v, color='#c4c4c4', lw=1.3, zorder=1)
    else:
        ax.axhline(v, color='#c4c4c4', lw=0.9, zorder=1)
for h in date_hours:
    ax.axvline(h, color='#c4c4c4', lw=1.2, zorder=1)

# members
for row, c in zip(t850_members, pert_colors):
    ax.plot(hours_temp, row, color=c, lw=0.7, marker='+', ms=3.2, mew=0.6, zorder=2)
for row, c in zip(t500_members, pert_colors):
    ax.plot(hours_temp, row, color=c, lw=0.7, marker='+', ms=3.2, mew=0.6, zorder=2)
for row, c in zip(precip_members, pert_colors):
    ax2.plot(hours_precip, row, color=c, lw=0.7, marker='+', ms=3.2, mew=0.6, zorder=2)

# control, CEP, mean
ax.plot(hours_temp, t850_control, color='#0000ff', lw=2.4, zorder=3)
ax.plot(hours_temp, t500_control, color='#0000ff', lw=2.4, zorder=3)
ax2.plot(hours_precip, precip_control, color='#0000ff', lw=1.8, zorder=3)
ax.plot(hours_temp, t850_cep, color='black', lw=3.4, zorder=4)
ax.plot(hours_temp, t500_cep, color='black', lw=3.4, zorder=4)
ax2.plot(hours_precip, precip_cep, color='black', lw=1.8, zorder=4)
ax.plot(hours_temp, t850_mean, color='#ff0000', lw=3.8, zorder=5)
ax.plot(hours_temp, t500_mean, color='#ff0000', lw=3.8, zorder=5)
ax2.plot(hours_precip, precip_mean, color='#ff0000', lw=3.0, zorder=5)

# axes styling
ax.set_xticks([])
ax2.set_xticks([])
ax.set_yticks(left_ticks, labels=[str(v) for v in left_ticks])
ax.tick_params(axis='y', length=0, pad=21.6, labelsize=FS)
for lbl in ax.get_yticklabels():
    lbl.set_horizontalalignment('left')
ax2.set_yticks(right_ticks, labels=[str(v) for v in right_ticks])
ax2.tick_params(axis='y', length=0, pad=14.4, labelsize=FS)
for a in (ax, ax2):
    a.spines['top'].set_visible(False)
    for s in ('left', 'right', 'bottom'):
        a.spines[s].set_linewidth(1.5)
        a.spines[s].set_color('black')

# date labels
for h, lab in zip(date_hours, date_labels):
    ax.annotate(lab, xy=(h, 0), xycoords=('data', 'axes fraction'), xytext=(1.5, -2),
                textcoords='offset pixels', rotation=90, ha='left', va='top',
                fontsize=FS, annotation_clip=False)

# in-plot section labels
fig.text(fx(60), fy(220), 'Temp. 850hPa', fontsize=FS, va='center', ha='left')
fig.text(fx(60), fy(391), 'Temp. 500hPa', fontsize=FS, va='center', ha='left')
fig.text(fx(60), fy(530), 'Précipitations', fontsize=FS, va='center', ha='left')

# units
fig.text(fx(20), fy(607), '(Â°c)', fontsize=FS, va='center', ha='left')
fig.text(fx(710), fy(607), '(mm)', fontsize=FS, va='center', ha='left')

# legend
fig.add_artist(Line2D([fx(35), fx(65)], [fy(637), fy(637)], color='#ff0000', lw=3))
fig.text(fx(75), fy(637), 'Moyenne des scÃŠnarios', fontsize=FS, va='center', ha='left')
fig.add_artist(Line2D([fx(225), fx(255)], [fy(637), fy(637)], color='#0000ff', lw=3))
fig.text(fx(264), fy(636), 'Run de contrôle', fontsize=FS, va='center', ha='left')
fig.add_artist(Line2D([fx(225), fx(255)], [fy(647), fy(647)], color='black', lw=3))
fig.text(fx(264), fy(648), 'Run CEP/ECMWF', fontsize=FS, va='center', ha='left')

# perturbation colour table
fig.text(fx(369), fy(652), '50 Perts.', fontsize=FS, va='center', ha='left')
pitch = 10.9
for i in range(25):
    x0 = 430.5 + pitch * i
    fig.add_artist(Rectangle((fx(x0), fy(651)), 10 / W, 6 / H, transform=fig.transFigure,
                             facecolor=pert_colors[i], edgecolor='none'))
    fig.add_artist(Rectangle((fx(x0), fy(657)), 10 / W, 6 / H, transform=fig.transFigure,
                             facecolor=pert_colors[i + 25], edgecolor='none'))
    fig.text(fx(x0 + 5), fy(640), '%02d' % (i + 1), fontsize=6.2, fontweight='bold',
             va='center', ha='center')
    fig.text(fx(x0 + 5), fy(663), '%02d' % (i + 26), fontsize=6.2, fontweight='bold',
             va='center', ha='center')

# title box
fig.add_artist(Rectangle((fx(20), fy(699)), 420 / W, 32 / H, transform=fig.transFigure,
                         facecolor='none', edgecolor='black', lw=1))
fig.text(fx(29), fy(677), 'Diagramme ensembles ECMWF/CEP 0.4° sur 144h pour Strasbourg',
         fontsize=8.0, fontweight='bold', va='center', ha='left')
fig.text(fx(29), fy(692), 'Températures 850hPa et 500hPa (°C) , précipitations (mm)',
         fontsize=FS, va='center', ha='left')
fig.text(fx(450), fy(676), 'Ensemble ECMWF/CEP du 22/01/2023 - 18Z', fontsize=FS, va='center', ha='left')
fig.text(fx(450), fy(692), 'Copyright 2023 Meteociel.fr - ECMWF', fontsize=8.2, fontweight='bold',
         va='center', ha='left')

fig.savefig('out.png', dpi=100)
